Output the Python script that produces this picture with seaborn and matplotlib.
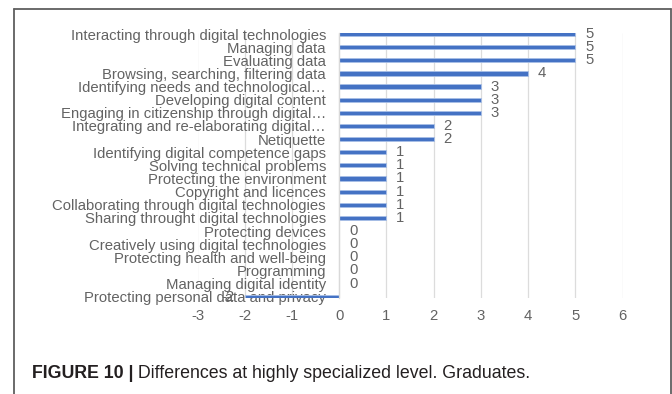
import matplotlib
matplotlib.use("Agg")
import matplotlib.pyplot as plt
from matplotlib.lines import Line2D
import seaborn as sns
import pandas as pd

categories = [
    "Interacting through digital technologies",
    "Managing data",
    "Evaluating data",
    "Browsing, searching, filtering data",
    "Identifying needs and technological\u2026",
    "Developing digital content",
    "Engaging in citizenship through digital\u2026",
    "Integrating and re-elaborating digital\u2026",
    "Netiquette",
    "Identifying digital competence gaps",
    "Solving technical problems",
    "Protecting the environment",
    "Copyright and licences",
    "Collaborating through digital technologies",
    "Sharing throught digital technologies",
    "Protecting devices",
    "Creatively using digital technologies",
    "Protecting health and well-being",
    "Programming",
    "Managing digital identity",
    "Protecting personal data and privacy",
]
differences = [5, 5, 5, 4, 3, 3, 3, 2, 2, 1, 1, 1, 1, 1, 1, 0, 0, 0, 0, 0, -2]
x_ticks = [-3, -2, -1, 0, 1, 2, 3, 4, 5, 6]
caption_bold = "FIGURE 10 |"
caption_text = " Differences at highly specialized level. Graduates."

df = pd.DataFrame({"category": categories, "difference": differences})

sns.set_theme(style="white")
plt.rcParams["font.family"] = ["Liberation Sans", "DejaVu Sans"]

W, H = 672, 394
fig = plt.figure(figsize=(W / 100, H / 100), dpi=100)
fig.patch.set_facecolor("white")

# plot area in pixel coordinates
left_px, right_px, top_px, bottom_px = 197.5, 622.5, 32.7, 298.0
ax = fig.add_axes([left_px / W, 1 - bottom_px / H,
                   (right_px - left_px) / W, (bottom_px - top_px) / H])

sns.barplot(data=df, y="category", x="difference", orient="h",
            color="#4472C4", saturation=1, width=0.32,
            edgecolor="#a8bfe6", linewidth=0.6, ax=ax)

ax.set_xlim(-3, 6)
ax.set_ylim(len(categories) - 0.9, -0.1)
ax.set_xticks(x_ticks)
ax.set_xticklabels([str(t) for t in x_ticks])
ax.set_xlabel("")
ax.set_ylabel("")

ax.grid(axis="x", color="#dcdcdc", linewidth=0.9)
ax.grid(axis="y", visible=False)
ax.set_axisbelow(True)

for side in ["top", "right", "bottom"]:
    ax.spines[side].set_visible(False)
ax.spines["left"].set_position(("data", 0))
ax.spines["left"].set_color("#d9d9d9")
ax.spines["left"].set_linewidth(0.9)

text_grey = "#636363"
ax.tick_params(axis="y", length=0, pad=9.5, labelsize=10.7, labelcolor=text_grey)
ax.tick_params(axis="x", length=0, pad=8, labelsize=10.7, labelcolor=text_grey)

ax.bar_label(ax.containers[0], labels=[str(v) for v in differences],
             padding=7, fontsize=10.7, color=text_grey)

# frame around the figure panel
frame_kw = dict(color="#5f5f5f", linewidth=1.3, transform=fig.transFigure)
fig.add_artist(Line2D([13.5 / W, 13.5 / W], [0, 1 - 8.5 / H], **frame_kw))
fig.add_artist(Line2D([13.5 / W, 670.5 / W], [1 - 8.5 / H, 1 - 8.5 / H], **frame_kw))
fig.add_artist(Line2D([670.5 / W, 670.5 / W], [0, 1 - 8.5 / H], **frame_kw))

# caption
t1 = fig.text(31.5 / W, 1 - 373.5 / H, caption_bold, fontsize=12.8,
              fontweight="bold", color="#231f20", va="center", ha="left")
fig.canvas.draw()
bb = t1.get_window_extent()
fig.text(bb.x1 / W, 1 - 373.5 / H, caption_text, fontsize=12.8,
         color="#231f20", va="center", ha="left")

fig.savefig("out.png", dpi=100)
